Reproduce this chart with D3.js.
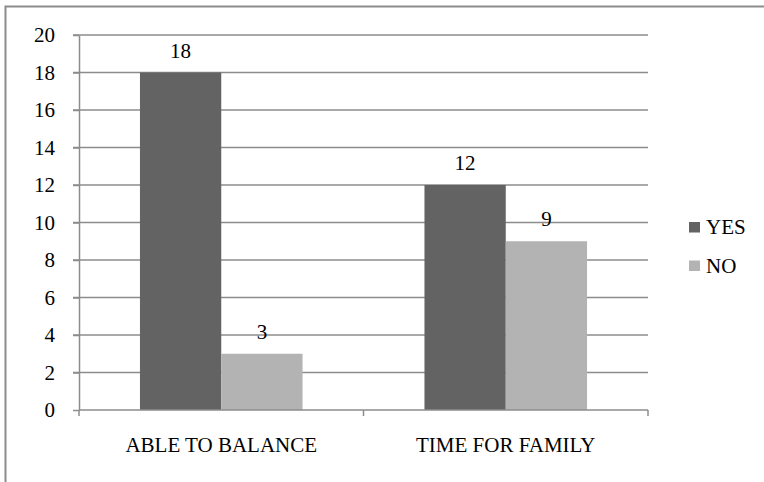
<!DOCTYPE html>
<html>
<head>
<meta charset="utf-8">
<script src="https://cdn.jsdelivr.net/npm/d3@7/dist/d3.min.js"></script>
<style>
  html, body { margin: 0; padding: 0; background: #fff; }
  text { font-family: "Liberation Serif", "Times New Roman", Times, serif !important; }
</style>
</head>
<body>
<svg id="chart" width="764" height="482"></svg>
<script>
// Survey responses per question
const categories = ["ABLE TO BALANCE", "TIME FOR FAMILY"];
const seriesNames = ["YES", "NO"];
const yesValues = [18, 12];
const noValues = [3, 9];
const yTicks = [0, 2, 4, 6, 8, 10, 12, 14, 16, 18, 20];

const colors = { YES: "#636363", NO: "#b3b3b3" };
const gridColor = "#8c8c8c";
const fontSize = 21;

const svg = d3.select("#chart");

// Outer frame
svg.append("rect")
  .attr("x", 5.5).attr("y", 6.5)
  .attr("width", 800).attr("height", 500)
  .attr("fill", "none").attr("stroke", gridColor).attr("stroke-width", 2);

const plot = { left: 79, right: 648, top: 35, bottom: 410 };

const x0 = d3.scaleBand().domain(categories).range([plot.left, plot.right]).paddingInner(0).paddingOuter(0);
const bandW = x0.bandwidth();
const barW = bandW / 3.5;
const x1 = d3.scaleBand().domain(seriesNames).range([0.75 * barW, 2.75 * barW]).padding(0);
const y = d3.scaleLinear().domain([0, 20]).range([plot.bottom, plot.top]);

// Horizontal gridlines
svg.append("g").selectAll("line").data(yTicks.filter(d => d > 0)).join("line")
  .attr("x1", plot.left - 6).attr("x2", plot.right)
  .attr("y1", d => y(d)).attr("y2", d => y(d))
  .attr("stroke", gridColor).attr("stroke-width", 1.5);

// Y axis
const yAxis = svg.append("g").attr("transform", `translate(${plot.left},0)`)
  .call(d3.axisLeft(y).tickValues(yTicks).tickSize(6).tickPadding(18).tickSizeOuter(0));
yAxis.attr("font-family", null).attr("font-size", null);
yAxis.select(".domain").attr("stroke", gridColor).attr("stroke-width", 1.5);
yAxis.selectAll(".tick line").attr("stroke", gridColor).attr("stroke-width", 1.5);
yAxis.selectAll(".tick text").attr("fill", "#000").attr("font-size", fontSize);

// Bars
const rows = categories.map((c, i) => ({ cat: c, values: [
  { key: "YES", value: yesValues[i] },
  { key: "NO", value: noValues[i] }
]}));

const groups = svg.append("g").selectAll("g").data(rows).join("g")
  .attr("transform", d => `translate(${x0(d.cat)},0)`);

groups.selectAll("rect").data(d => d.values).join("rect")
  .attr("x", d => x1(d.key)).attr("width", x1.bandwidth())
  .attr("y", d => y(d.value)).attr("height", d => y(0) - y(d.value))
  .attr("fill", d => colors[d.key]);

groups.selectAll("text").data(d => d.values).join("text")
  .attr("x", d => x1(d.key) + x1.bandwidth() / 2)
  .attr("y", d => y(d.value) - 15)
  .attr("text-anchor", "middle").attr("font-size", fontSize).attr("fill", "#000")
  .text(d => d.value);

// X axis
const xAxis = svg.append("g").attr("transform", `translate(0,${plot.bottom})`);
xAxis.append("line").attr("x1", plot.left).attr("x2", plot.right)
  .attr("stroke", gridColor).attr("stroke-width", 1.5);
const tickPositions = [plot.left, ...categories.map(c => x0(c) + bandW)];
xAxis.selectAll("line.tk").data(tickPositions).join("line").attr("class", "tk")
  .attr("x1", d => d).attr("x2", d => d).attr("y1", 0).attr("y2", 6)
  .attr("stroke", gridColor).attr("stroke-width", 1.5);
xAxis.selectAll("text").data(categories).join("text")
  .attr("x", d => x0(d) + bandW / 2).attr("y", 42)
  .attr("text-anchor", "middle").attr("font-size", fontSize).attr("fill", "#000")
  .text(d => d);

// Legend
const legend = svg.append("g").attr("transform", "translate(689,222)");
const li = legend.selectAll("g").data(seriesNames).join("g")
  .attr("transform", (d, i) => `translate(0,${i * 38.5})`);
li.append("rect").attr("width", 11).attr("height", 10.5).attr("fill", d => colors[d]);
li.append("text").attr("x", 17).attr("y", 12).attr("font-size", fontSize).attr("fill", "#000").text(d => d);
</script>
</body>
</html>
